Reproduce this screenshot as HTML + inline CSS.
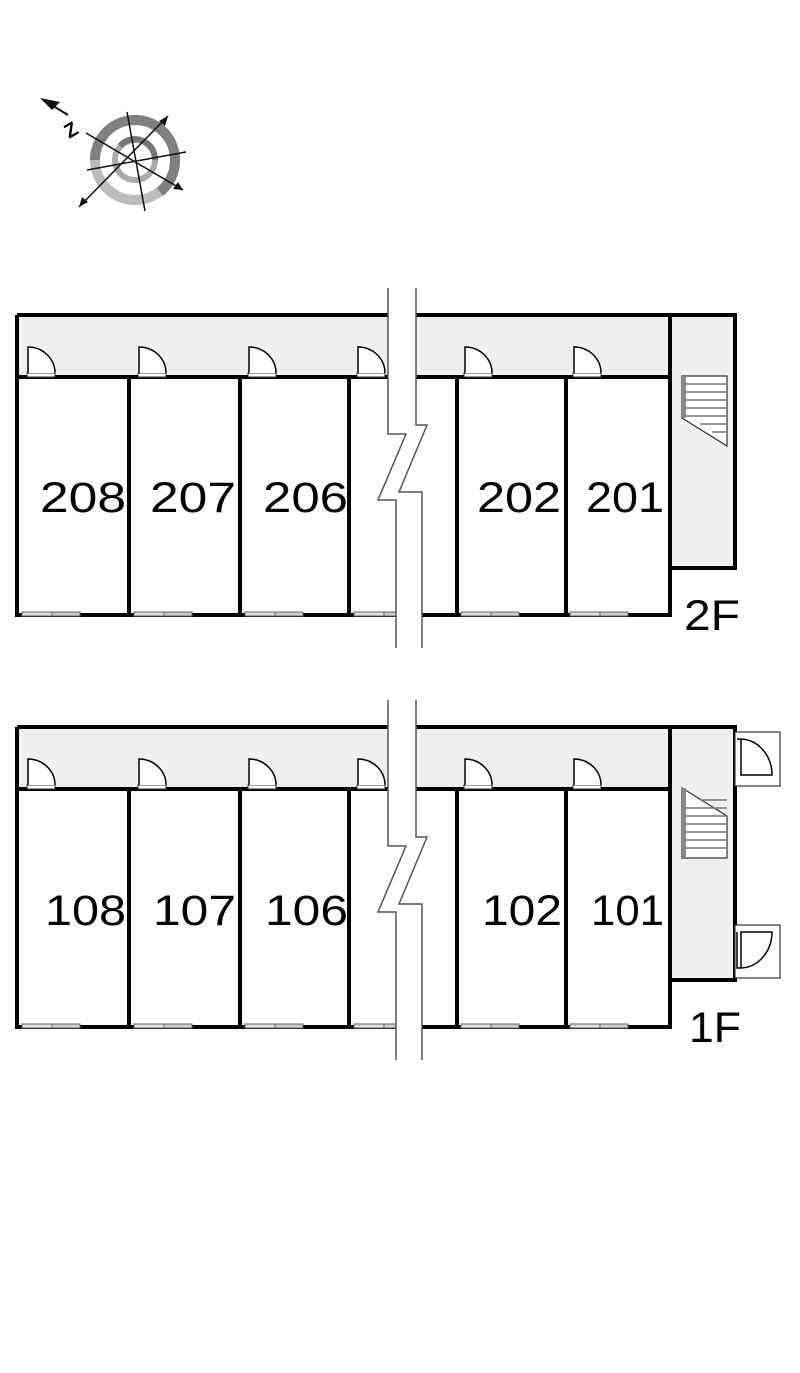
<!DOCTYPE html>
<html><head><meta charset="utf-8"><style>
html,body{margin:0;padding:0;background:#fff;}
svg{display:block;}
text{font-family:"Liberation Sans",sans-serif;fill:#000;}
</style></head><body>
<svg width="800" height="1373" viewBox="0 0 800 1373" xmlns="http://www.w3.org/2000/svg">
<defs>
<g id="door">
  <rect x="0" y="-4" width="28" height="4" fill="#fff" stroke="#333" stroke-width="1"/>
  <path d="M1,-4 V-30 A27,26 0 0 1 28,-4" fill="#fff" stroke="#000" stroke-width="1.5"/>
</g>
<g id="win">
  <rect x="0" y="-3" width="30" height="4" fill="#ddd" stroke="#666" stroke-width="1"/>
  <rect x="30" y="-3" width="28" height="4" fill="#ccc" stroke="#666" stroke-width="1"/>
</g>
<g id="floor">
  <rect x="17" y="0" width="653" height="62" fill="#efefef"/>
  <rect x="670" y="0" width="65" height="253" fill="#efefef"/>
  <g stroke="#000" stroke-width="4" fill="none">
    <path d="M17,0 H735 V253 H670"/>
    <path d="M17,0 V300 H670 V0"/>
    <path d="M17,62 H670"/>
    <path d="M129,62 V300 M240,62 V300 M349,62 V300 M457,62 V300 M566,62 V300"/>
  </g>
  <use href="#door" x="27" y="62"/><use href="#door" x="138" y="62"/><use href="#door" x="248" y="62"/>
  <use href="#door" x="357" y="62"/><use href="#door" x="464" y="62"/><use href="#door" x="573" y="62"/>
  <use href="#win" x="22" y="300"/><use href="#win" x="134" y="300"/><use href="#win" x="245" y="300"/>
  <use href="#win" x="354" y="300"/><use href="#win" x="461" y="300"/><use href="#win" x="570" y="300"/>
  <path d="M388,-27 V119 H406 L378,185 H396 V333 H422 V177 H399 L427,110 H416 V-27 Z" fill="#fff" stroke="none"/>
  <path d="M388,-27 V119 H406 L378,185 H396 V333" fill="none" stroke="#555" stroke-width="1.5"/>
  <path d="M416,-27 V110 H427 L399,177 H422 V333" fill="none" stroke="#555" stroke-width="1.5"/>
</g>
</defs>

<!-- compass -->
<g>
  <circle cx="135" cy="160" r="40" fill="none" stroke="#bbb" stroke-width="10"/>
  <path d="M95,160 A40,40 0 0 1 175,160 A40,40 0 0 1 160,192" fill="none" stroke="#808080" stroke-width="10"/>
  <circle cx="135" cy="160" r="20" fill="none" stroke="#aaa" stroke-width="6"/>
  <path d="M120,146 A20,20 0 0 1 155,160" fill="none" stroke="#777" stroke-width="6"/>
  <g stroke="#111" stroke-width="1.5">
    <line x1="86" y1="133" x2="183" y2="190"/>
    <line x1="79" y1="207" x2="168" y2="116"/>
    <line x1="87" y1="170" x2="186" y2="152"/>
    <line x1="127" y1="112" x2="145" y2="211"/>
  </g>
  <polygon points="183,190 173,189 178,182" fill="#111"/>
  <polygon points="79,207 82,197 88,202" fill="#111"/>
  <polygon points="168,116 165,126 159,121" fill="#111"/>
  <polygon points="40,98 60,102 52,110" fill="#111"/>
  <line x1="50" y1="104" x2="68" y2="115" stroke="#111" stroke-width="2"/>
  <text x="64" y="136" font-size="20" font-weight="bold" transform="rotate(-30 72 128)">Z</text>
</g>

<!-- 2F -->
<use href="#floor" x="0" y="315"/>
<g stroke="#333" stroke-width="1.2" fill="#fff">
  <path d="M682,376 H727 V446 L682,418 Z"/>
</g>
<rect x="682" y="376" width="4" height="42" fill="#888"/>
<g stroke="#777" stroke-width="1.5">
  <line x1="686" y1="384" x2="727" y2="384"/><line x1="686" y1="392" x2="727" y2="392"/>
  <line x1="686" y1="400" x2="727" y2="400"/><line x1="686" y1="408" x2="727" y2="408"/>
  <line x1="686" y1="416" x2="727" y2="416"/><line x1="700" y1="424" x2="727" y2="424"/>
  <line x1="712" y1="432" x2="727" y2="432"/>
</g>
<g font-size="43" lengthAdjust="spacingAndGlyphs">
  <text x="40" y="512" textLength="86" lengthAdjust="spacingAndGlyphs">208</text>
  <text x="150" y="512" textLength="86" lengthAdjust="spacingAndGlyphs">207</text>
  <text x="263" y="512" textLength="85" lengthAdjust="spacingAndGlyphs">206</text>
  <text x="477" y="512" textLength="84" lengthAdjust="spacingAndGlyphs">202</text>
  <text x="586" y="512" textLength="78" lengthAdjust="spacingAndGlyphs">201</text>
</g>
<text x="684" y="630" font-size="43" textLength="56" lengthAdjust="spacingAndGlyphs">2F</text>

<!-- 1F -->
<use href="#floor" x="0" y="727"/>
<g stroke="#333" stroke-width="1.2" fill="#fff">
  <path d="M682,788 L727,816 V858 H682 Z"/>
</g>
<rect x="682" y="788" width="4" height="70" fill="#888"/>
<g stroke="#777" stroke-width="1.5">
  <line x1="700" y1="800" x2="727" y2="800"/><line x1="686" y1="808" x2="727" y2="808"/>
  <line x1="686" y1="816" x2="727" y2="816"/><line x1="686" y1="824" x2="727" y2="824"/>
  <line x1="686" y1="832" x2="727" y2="832"/><line x1="686" y1="840" x2="727" y2="840"/>
  <line x1="686" y1="848" x2="727" y2="848"/>
</g>
<g fill="#fff" stroke="#333" stroke-width="1.2">
  <rect x="735" y="732" width="45" height="54"/>
  <rect x="735" y="925" width="45" height="53"/>
</g>
<g fill="none" stroke="#000" stroke-width="1.5">
  <path d="M737,739 H741 V775 H772 A32,36 0 0 0 741,739"/>
  <path d="M737,932 V968 H741 V932 H772 A32,36 0 0 1 741,968"/>
</g>
<g font-size="43">
  <text x="45" y="925" textLength="81" lengthAdjust="spacingAndGlyphs">108</text>
  <text x="153" y="925" textLength="83" lengthAdjust="spacingAndGlyphs">107</text>
  <text x="265" y="925" textLength="83" lengthAdjust="spacingAndGlyphs">106</text>
  <text x="482" y="925" textLength="80" lengthAdjust="spacingAndGlyphs">102</text>
  <text x="591" y="925" textLength="73" lengthAdjust="spacingAndGlyphs">101</text>
</g>
<text x="689" y="1042" font-size="43" textLength="52" lengthAdjust="spacingAndGlyphs">1F</text>
</svg>
</body></html>
